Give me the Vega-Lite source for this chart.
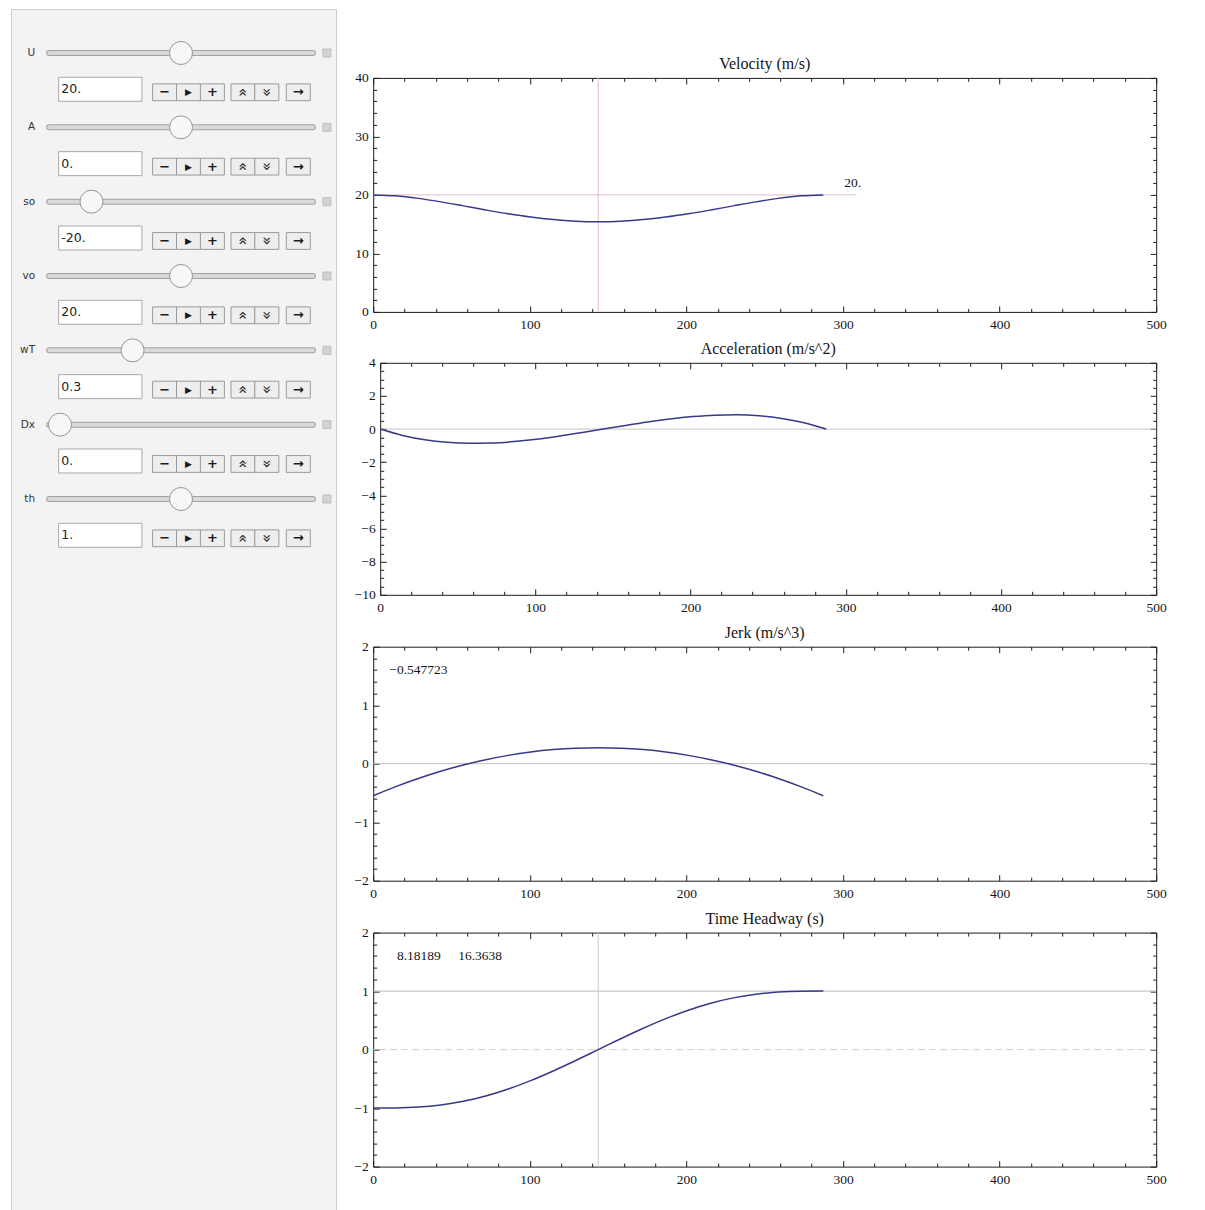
{
  "$schema": "https://vega.github.io/schema/vega-lite/v6.json",
  "background": "white",
  "padding": {"left": 10, "top": 8, "right": 0, "bottom": 0},
  "spacing": 16.2,
  "datasets": {
    "profile": [
      {"x": 0, "v": 20.0, "a": 0, "j": -0.5478, "h": -1.0},
      {"x": 14.37, "v": 19.835, "a": -0.3831, "j": -0.3917, "h": -0.9977},
      {"x": 28.74, "v": 19.406, "a": -0.6453, "j": -0.252, "h": -0.9829},
      {"x": 43.11, "v": 18.808, "a": -0.7999, "j": -0.1287, "h": -0.9468},
      {"x": 57.48, "v": 18.123, "a": -0.8604, "j": -0.0219, "h": -0.8842},
      {"x": 71.85, "v": 17.422, "a": -0.8402, "j": 0.0685, "h": -0.793},
      {"x": 86.22, "v": 16.766, "a": -0.7528, "j": 0.1424, "h": -0.6738},
      {"x": 100.59, "v": 16.205, "a": -0.6117, "j": 0.2, "h": -0.5297},
      {"x": 114.96, "v": 15.776, "a": -0.4302, "j": 0.241, "h": -0.3651},
      {"x": 129.33, "v": 15.508, "a": -0.2218, "j": 0.2657, "h": -0.1863},
      {"x": 143.7, "v": 15.417, "a": 0, "j": 0.2739, "h": 0},
      {"x": 158.07, "v": 15.508, "a": 0.2218, "j": 0.2657, "h": 0.1863},
      {"x": 172.44, "v": 15.776, "a": 0.4302, "j": 0.241, "h": 0.3651},
      {"x": 186.81, "v": 16.205, "a": 0.6117, "j": 0.2, "h": 0.5297},
      {"x": 201.18, "v": 16.766, "a": 0.7528, "j": 0.1424, "h": 0.6738},
      {"x": 215.55, "v": 17.422, "a": 0.8402, "j": 0.0685, "h": 0.793},
      {"x": 229.92, "v": 18.123, "a": 0.8604, "j": -0.0219, "h": 0.8842},
      {"x": 244.29, "v": 18.808, "a": 0.7999, "j": -0.1287, "h": 0.9468},
      {"x": 258.66, "v": 19.406, "a": 0.6453, "j": -0.252, "h": 0.9829},
      {"x": 273.03, "v": 19.835, "a": 0.3831, "j": -0.3917, "h": 0.9977},
      {"x": 287.4, "v": 20.0, "a": 0, "j": -0.5478, "h": 1.0}
    ],
    "controls": [
      {"name": "U", "value": "20.", "level": 0.5, "parts": ["", "−", "▶", "+", "«", "»", "→"], "slot": [0, 1, 2, 3, 4, 5, 6]},
      {"name": "A", "value": "0.", "level": 0.5, "parts": ["", "−", "▶", "+", "«", "»", "→"], "slot": [0, 1, 2, 3, 4, 5, 6]},
      {"name": "so", "value": "-20.", "level": 0.13, "parts": ["", "−", "▶", "+", "«", "»", "→"], "slot": [0, 1, 2, 3, 4, 5, 6]},
      {"name": "vo", "value": "20.", "level": 0.5, "parts": ["", "−", "▶", "+", "«", "»", "→"], "slot": [0, 1, 2, 3, 4, 5, 6]},
      {"name": "wT", "value": "0.3", "level": 0.3, "parts": ["", "−", "▶", "+", "«", "»", "→"], "slot": [0, 1, 2, 3, 4, 5, 6]},
      {"name": "Dx", "value": "0.", "level": 0, "parts": ["", "−", "▶", "+", "«", "»", "→"], "slot": [0, 1, 2, 3, 4, 5, 6]},
      {"name": "th", "value": "1.", "level": 0.5, "parts": ["", "−", "▶", "+", "«", "»", "→"], "slot": [0, 1, 2, 3, 4, 5, 6]}
    ]
  },
  "hconcat": [
    {
      "width": 325,
      "height": 1202,
      "view": {"fill": "#f3f3f3", "stroke": "#cfcfcf", "strokeWidth": 1},
      "data": {"name": "controls"},
      "layer": [
        {
          "layer": [
            {
              "mark": {"type": "rule", "stroke": "#a2a2a2", "strokeWidth": 6, "strokeCap": "round"},
              "encoding": {
                "x": {"datum": -0.045, "type": "quantitative", "scale": {"domain": [0, 1], "range": [49, 291], "nice": false, "zero": false}, "axis": null},
                "x2": {"datum": 1.045},
                "y": {"field": "name", "type": "nominal", "scale": {"type": "point", "domain": ["U", "A", "so", "vo", "wT", "Dx", "th"], "range": [44, 490], "padding": 0}, "axis": null}
              }
            },
            {
              "mark": {"type": "rule", "stroke": "#d9d9d9", "strokeWidth": 4, "strokeCap": "round"},
              "encoding": {
                "x": {"datum": -0.045, "type": "quantitative", "scale": {"domain": [0, 1], "range": [49, 291], "nice": false, "zero": false}, "axis": null},
                "x2": {"datum": 1.045},
                "y": {"field": "name", "type": "nominal", "scale": {"type": "point", "domain": ["U", "A", "so", "vo", "wT", "Dx", "th"], "range": [44, 490], "padding": 0}, "axis": null}
              }
            },
            {
              "mark": {"type": "point", "shape": "square", "size": 64, "filled": true, "fill": "#d2d2d2", "stroke": "#bdbdbd", "strokeWidth": 1, "opacity": 1},
              "encoding": {
                "x": {"datum": 1.103, "type": "quantitative", "scale": {"domain": [0, 1], "range": [49, 291], "nice": false, "zero": false}, "axis": null},
                "y": {"field": "name", "type": "nominal", "scale": {"type": "point", "domain": ["U", "A", "so", "vo", "wT", "Dx", "th"], "range": [44, 490], "padding": 0}, "axis": null}
              }
            },
            {
              "mark": {"type": "text", "align": "right", "baseline": "middle", "font": "DejaVu Sans", "fontSize": 10.5, "fill": "#333333"},
              "encoding": {
                "x": {"datum": -0.103, "type": "quantitative", "scale": {"domain": [0, 1], "range": [49, 291], "nice": false, "zero": false}, "axis": null},
                "y": {"field": "name", "type": "nominal", "scale": {"type": "point", "domain": ["U", "A", "so", "vo", "wT", "Dx", "th"], "range": [44, 490], "padding": 0}, "axis": null},
                "text": {"field": "name"}
              }
            },
            {
              "mark": {"type": "point", "shape": "circle", "size": 529, "filled": true, "fill": "#f7f7f7", "stroke": "#969696", "strokeWidth": 1, "opacity": 1},
              "encoding": {
                "x": {"field": "level", "type": "quantitative", "scale": {"domain": [0, 1], "range": [49, 291], "nice": false, "zero": false}, "axis": null},
                "y": {"field": "name", "type": "nominal", "scale": {"type": "point", "domain": ["U", "A", "so", "vo", "wT", "Dx", "th"], "range": [44, 490], "padding": 0}, "axis": null}
              }
            }
          ]
        },
        {
          "transform": [{"flatten": ["parts", "slot"], "as": ["part", "slot"]}],
          "layer": [
            {
              "transform": [{"filter": "datum.slot == 0"}],
              "mark": {"type": "point", "shape": "M-1,-0.288H1V0.288H-1Z", "size": 6939, "filled": true, "fill": "#ffffff", "stroke": "#a8a8a8", "strokeWidth": 1, "opacity": 1, "yOffset": 36.3},
              "encoding": {
                "x": {"field": "slot", "type": "quantitative", "scale": {"domain": [0, 1, 3, 4, 5, 6], "range": [89.3, 153.6, 201.4, 232, 255.8, 287.3], "nice": false, "zero": false}, "axis": null},
                "y": {"field": "name", "type": "nominal", "scale": {"type": "point", "domain": ["U", "A", "so", "vo", "wT", "Dx", "th"], "range": [44, 490], "padding": 0}, "axis": null}
              }
            },
            {
              "transform": [{"filter": "datum.slot > 0"}],
              "mark": {"type": "point", "shape": "M-1,-0.7H1V0.7H-1Z", "size": 576, "filled": true, "fill": "#eeeeee", "stroke": "#9a9a9a", "strokeWidth": 1, "opacity": 1, "yOffset": 39.3},
              "encoding": {
                "x": {"field": "slot", "type": "quantitative", "scale": {"domain": [0, 1, 3, 4, 5, 6], "range": [89.3, 153.6, 201.4, 232, 255.8, 287.3], "nice": false, "zero": false}, "axis": null},
                "y": {"field": "name", "type": "nominal", "scale": {"type": "point", "domain": ["U", "A", "so", "vo", "wT", "Dx", "th"], "range": [44, 490], "padding": 0}, "axis": null}
              }
            },
            {
              "transform": [{"filter": "indexof([1, 2, 3, 6], datum.slot) >= 0"}],
              "mark": {"type": "text", "align": "center", "baseline": "middle", "font": "DejaVu Sans", "fontWeight": "bold", "fill": "#1a1a1a", "dy": 39.3},
              "encoding": {
                "x": {"field": "slot", "type": "quantitative", "scale": {"domain": [0, 1, 3, 4, 5, 6], "range": [89.3, 153.6, 201.4, 232, 255.8, 287.3], "nice": false, "zero": false}, "axis": null},
                "y": {"field": "name", "type": "nominal", "scale": {"type": "point", "domain": ["U", "A", "so", "vo", "wT", "Dx", "th"], "range": [44, 490], "padding": 0}, "axis": null},
                "text": {"field": "part"},
                "size": {"condition": {"test": "datum.slot == 2", "value": 9}, "value": 13}
              }
            },
            {
              "transform": [{"filter": "datum.slot == 4 || datum.slot == 5"}],
              "mark": {"type": "text", "align": "center", "baseline": "middle", "font": "DejaVu Sans", "fontSize": 15, "angle": 90, "fill": "#1a1a1a", "dx": 39.3},
              "encoding": {
                "x": {"field": "slot", "type": "quantitative", "scale": {"domain": [0, 1, 3, 4, 5, 6], "range": [89.3, 153.6, 201.4, 232, 255.8, 287.3], "nice": false, "zero": false}, "axis": null},
                "y": {"field": "name", "type": "nominal", "scale": {"type": "point", "domain": ["U", "A", "so", "vo", "wT", "Dx", "th"], "range": [44, 490], "padding": 0}, "axis": null},
                "text": {"field": "part"}
              }
            },
            {
              "transform": [{"filter": "datum.slot == 0"}],
              "mark": {"type": "text", "align": "left", "baseline": "middle", "font": "DejaVu Sans", "fontSize": 12.5, "fill": "#222222", "dx": -39, "dy": 36.3},
              "encoding": {
                "x": {"field": "slot", "type": "quantitative", "scale": {"domain": [0, 1, 3, 4, 5, 6], "range": [89.3, 153.6, 201.4, 232, 255.8, 287.3], "nice": false, "zero": false}, "axis": null},
                "y": {"field": "name", "type": "nominal", "scale": {"type": "point", "domain": ["U", "A", "so", "vo", "wT", "Dx", "th"], "range": [44, 490], "padding": 0}, "axis": null},
                "text": {"field": "value"}
              }
            }
          ]
        }
      ],
      "resolve": {"scale": {"x": "independent"}}
    },
    {
      "concat": [
        {
          "width": 783,
          "height": 36.2,
          "view": {"stroke": null},
          "data": {"values": [{}]},
          "mark": {"type": "text"},
          "encoding": {}
        },
        {
          "width": 783,
          "height": 234,
          "title": {"text": "Velocity (m/s)"},
          "layer": [
            {
              "data": {"values": [{"x": 143.7}]},
              "mark": {"type": "rule", "stroke": "#e2c2c4", "strokeWidth": 1},
              "encoding": {
                "x": {"field": "x", "type": "quantitative", "scale": {"domain": [0, 500], "nice": false, "zero": false}, "axis": null}
              }
            },
            {
              "data": {"values": [{"x0": 0, "x1": 308.6, "y": 20}]},
              "mark": {"type": "rule", "stroke": "#e6bcc6", "strokeWidth": 1},
              "encoding": {
                "x": {"field": "x0", "type": "quantitative", "scale": {"domain": [0, 500], "nice": false, "zero": false}, "axis": null},
                "x2": {"field": "x1"},
                "y": {"field": "y", "type": "quantitative", "scale": {"domain": [0, 40], "nice": false, "zero": false}, "axis": null}
              }
            },
            {
              "data": {"values": [{"x": 306.2, "y": 22.1, "label": "20."}]},
              "mark": {"type": "text", "font": "Liberation Serif", "fontSize": 13.5, "fill": "#151515", "align": "center", "baseline": "middle"},
              "encoding": {
                "x": {"field": "x", "type": "quantitative", "scale": {"domain": [0, 500], "nice": false, "zero": false}, "axis": null},
                "y": {"field": "y", "type": "quantitative", "scale": {"domain": [0, 40], "nice": false, "zero": false}, "axis": null},
                "text": {"field": "label"}
              }
            },
            {
              "data": {"name": "profile"},
              "mark": {"type": "line", "stroke": "#38388a", "strokeWidth": 1.5, "interpolate": "monotone"},
              "encoding": {
                "x": {"field": "x", "type": "quantitative", "scale": {"domain": [0, 500], "nice": false, "zero": false}, "axis": {"orient": "bottom", "values": [0, 100, 200, 300, 400, 500], "tickSize": -6, "labelPadding": 12, "title": null}},
                "y": {"field": "v", "type": "quantitative", "scale": {"domain": [0, 40], "nice": false, "zero": false}, "axis": {"orient": "left", "values": [0, 10, 20, 30, 40], "tickSize": -6, "labelPadding": 11, "title": null}}
              }
            },
            {
              "data": {"name": "profile"},
              "mark": {"type": "point", "opacity": 0},
              "encoding": {
                "x": {"field": "x", "type": "quantitative", "scale": {"domain": [0, 500], "nice": false, "zero": false}, "axis": {"orient": "top", "values": [0, 100, 200, 300, 400, 500], "tickSize": -6, "labels": false, "title": null}},
                "y": {"field": "v", "type": "quantitative", "scale": {"domain": [0, 40], "nice": false, "zero": false}, "axis": {"orient": "right", "values": [0, 10, 20, 30, 40], "tickSize": -6, "labels": false, "title": null}}
              }
            },
            {
              "data": {"name": "profile"},
              "mark": {"type": "point", "opacity": 0},
              "encoding": {
                "x": {"field": "x", "type": "quantitative", "scale": {"domain": [0, 500], "nice": false, "zero": false}, "axis": {"orient": "bottom", "values": [20, 40, 60, 80, 120, 140, 160, 180, 220, 240, 260, 280, 320, 340, 360, 380, 420, 440, 460, 480], "tickSize": -3.5, "labels": false, "title": null}},
                "y": {"field": "v", "type": "quantitative", "scale": {"domain": [0, 40], "nice": false, "zero": false}, "axis": {"orient": "left", "values": [2, 4, 6, 8, 12, 14, 16, 18, 22, 24, 26, 28, 32, 34, 36, 38], "tickSize": -3.5, "labels": false, "title": null}}
              }
            },
            {
              "data": {"name": "profile"},
              "mark": {"type": "point", "opacity": 0},
              "encoding": {
                "x": {"field": "x", "type": "quantitative", "scale": {"domain": [0, 500], "nice": false, "zero": false}, "axis": {"orient": "top", "values": [20, 40, 60, 80, 120, 140, 160, 180, 220, 240, 260, 280, 320, 340, 360, 380, 420, 440, 460, 480], "tickSize": -3.5, "labels": false, "title": null}},
                "y": {"field": "v", "type": "quantitative", "scale": {"domain": [0, 40], "nice": false, "zero": false}, "axis": {"orient": "right", "values": [2, 4, 6, 8, 12, 14, 16, 18, 22, 24, 26, 28, 32, 34, 36, 38], "tickSize": -3.5, "labels": false, "title": null}}
              }
            }
          ],
          "resolve": {"axis": {"x": "independent", "y": "independent"}}
        },
        {
          "width": 783,
          "height": 232,
          "view": {"stroke": null},
          "title": {"text": "Acceleration (m/s^2)", "dx": 3.5},
          "layer": [
            {
              "data": {"values": [{"x0": 0, "x1": 500, "y": 0}]},
              "mark": {"type": "rule", "stroke": "#c4c4c4", "strokeWidth": 1},
              "encoding": {
                "x": {"field": "x0", "type": "quantitative", "scale": {"domain": [0, 500], "range": [7, 783], "nice": false, "zero": false}, "axis": null},
                "x2": {"field": "x1"},
                "y": {"field": "y", "type": "quantitative", "scale": {"domain": [-10, 4], "nice": false, "zero": false}, "axis": null}
              }
            },
            {
              "data": {"name": "profile"},
              "mark": {"type": "line", "stroke": "#38388a", "strokeWidth": 1.5, "interpolate": "monotone"},
              "encoding": {
                "x": {"field": "x", "type": "quantitative", "scale": {"domain": [0, 500], "range": [7, 783], "nice": false, "zero": false}, "axis": {"orient": "bottom", "values": [0, 100, 200, 300, 400, 500], "tickSize": -6, "labelPadding": 12, "domain": true, "domainColor": "#1e1e1e", "domainWidth": 1, "title": null}},
                "y": {"field": "a", "type": "quantitative", "scale": {"domain": [-10, 4], "nice": false, "zero": false}, "axis": {"orient": "left", "offset": -7, "values": [-10, -8, -6, -4, -2, 0, 2, 4], "tickSize": -6, "labelPadding": 11, "domain": true, "domainColor": "#1e1e1e", "domainWidth": 1, "title": null}}
              }
            },
            {
              "data": {"name": "profile"},
              "mark": {"type": "point", "opacity": 0},
              "encoding": {
                "x": {"field": "x", "type": "quantitative", "scale": {"domain": [0, 500], "range": [7, 783], "nice": false, "zero": false}, "axis": {"orient": "top", "values": [0, 100, 200, 300, 400, 500], "tickSize": -6, "labels": false, "domain": true, "domainColor": "#1e1e1e", "domainWidth": 1, "title": null}},
                "y": {"field": "a", "type": "quantitative", "scale": {"domain": [-10, 4], "nice": false, "zero": false}, "axis": {"orient": "right", "values": [-10, -8, -6, -4, -2, 0, 2, 4], "tickSize": -6, "labels": false, "domain": true, "domainColor": "#1e1e1e", "domainWidth": 1, "title": null}}
              }
            },
            {
              "data": {"name": "profile"},
              "mark": {"type": "point", "opacity": 0},
              "encoding": {
                "x": {"field": "x", "type": "quantitative", "scale": {"domain": [0, 500], "range": [7, 783], "nice": false, "zero": false}, "axis": {"orient": "bottom", "values": [20, 40, 60, 80, 120, 140, 160, 180, 220, 240, 260, 280, 320, 340, 360, 380, 420, 440, 460, 480], "tickSize": -3.5, "labels": false, "title": null}},
                "y": {"field": "a", "type": "quantitative", "scale": {"domain": [-10, 4], "nice": false, "zero": false}, "axis": {"orient": "left", "offset": -7, "values": [-9.5, -9, -8.5, -7.5, -7, -6.5, -5.5, -5, -4.5, -3.5, -3, -2.5, -1.5, -1, -0.5, 0.5, 1, 1.5, 2.5, 3, 3.5], "tickSize": -3.5, "labels": false, "title": null}}
              }
            },
            {
              "data": {"name": "profile"},
              "mark": {"type": "point", "opacity": 0},
              "encoding": {
                "x": {"field": "x", "type": "quantitative", "scale": {"domain": [0, 500], "range": [7, 783], "nice": false, "zero": false}, "axis": {"orient": "top", "values": [20, 40, 60, 80, 120, 140, 160, 180, 220, 240, 260, 280, 320, 340, 360, 380, 420, 440, 460, 480], "tickSize": -3.5, "labels": false, "title": null}},
                "y": {"field": "a", "type": "quantitative", "scale": {"domain": [-10, 4], "nice": false, "zero": false}, "axis": {"orient": "right", "values": [-9.5, -9, -8.5, -7.5, -7, -6.5, -5.5, -5, -4.5, -3.5, -3, -2.5, -1.5, -1, -0.5, 0.5, 1, 1.5, 2.5, 3, 3.5], "tickSize": -3.5, "labels": false, "title": null}}
              }
            }
          ],
          "resolve": {"axis": {"x": "independent", "y": "independent"}}
        },
        {
          "width": 783,
          "height": 234,
          "title": {"text": "Jerk (m/s^3)"},
          "layer": [
            {
              "data": {"values": [{"y": 0}]},
              "mark": {"type": "rule", "stroke": "#c0c0c0", "strokeWidth": 1},
              "encoding": {
                "y": {"field": "y", "type": "quantitative", "scale": {"domain": [-2, 2], "nice": false, "zero": false}, "axis": null}
              }
            },
            {
              "data": {"values": [{"x": 28.9, "y": 1.6, "label": "−0.547723"}]},
              "mark": {"type": "text", "font": "Liberation Serif", "fontSize": 13.5, "fill": "#151515", "align": "center", "baseline": "middle"},
              "encoding": {
                "x": {"field": "x", "type": "quantitative", "scale": {"domain": [0, 500], "nice": false, "zero": false}, "axis": null},
                "y": {"field": "y", "type": "quantitative", "scale": {"domain": [-2, 2], "nice": false, "zero": false}, "axis": null},
                "text": {"field": "label"}
              }
            },
            {
              "data": {"name": "profile"},
              "mark": {"type": "line", "stroke": "#38388a", "strokeWidth": 1.5, "interpolate": "monotone"},
              "encoding": {
                "x": {"field": "x", "type": "quantitative", "scale": {"domain": [0, 500], "nice": false, "zero": false}, "axis": {"orient": "bottom", "values": [0, 100, 200, 300, 400, 500], "tickSize": -6, "labelPadding": 12, "title": null}},
                "y": {"field": "j", "type": "quantitative", "scale": {"domain": [-2, 2], "nice": false, "zero": false}, "axis": {"orient": "left", "values": [-2, -1, 0, 1, 2], "tickSize": -6, "labelPadding": 11, "title": null}}
              }
            },
            {
              "data": {"name": "profile"},
              "mark": {"type": "point", "opacity": 0},
              "encoding": {
                "x": {"field": "x", "type": "quantitative", "scale": {"domain": [0, 500], "nice": false, "zero": false}, "axis": {"orient": "top", "values": [0, 100, 200, 300, 400, 500], "tickSize": -6, "labels": false, "title": null}},
                "y": {"field": "j", "type": "quantitative", "scale": {"domain": [-2, 2], "nice": false, "zero": false}, "axis": {"orient": "right", "values": [-2, -1, 0, 1, 2], "tickSize": -6, "labels": false, "title": null}}
              }
            },
            {
              "data": {"name": "profile"},
              "mark": {"type": "point", "opacity": 0},
              "encoding": {
                "x": {"field": "x", "type": "quantitative", "scale": {"domain": [0, 500], "nice": false, "zero": false}, "axis": {"orient": "bottom", "values": [20, 40, 60, 80, 120, 140, 160, 180, 220, 240, 260, 280, 320, 340, 360, 380, 420, 440, 460, 480], "tickSize": -3.5, "labels": false, "title": null}},
                "y": {"field": "j", "type": "quantitative", "scale": {"domain": [-2, 2], "nice": false, "zero": false}, "axis": {"orient": "left", "values": [-1.8, -1.6, -1.4, -1.2, -0.8, -0.6, -0.4, -0.2, 0.2, 0.4, 0.6, 0.8, 1.2, 1.4, 1.6, 1.8], "tickSize": -3.5, "labels": false, "title": null}}
              }
            },
            {
              "data": {"name": "profile"},
              "mark": {"type": "point", "opacity": 0},
              "encoding": {
                "x": {"field": "x", "type": "quantitative", "scale": {"domain": [0, 500], "nice": false, "zero": false}, "axis": {"orient": "top", "values": [20, 40, 60, 80, 120, 140, 160, 180, 220, 240, 260, 280, 320, 340, 360, 380, 420, 440, 460, 480], "tickSize": -3.5, "labels": false, "title": null}},
                "y": {"field": "j", "type": "quantitative", "scale": {"domain": [-2, 2], "nice": false, "zero": false}, "axis": {"orient": "right", "values": [-1.8, -1.6, -1.4, -1.2, -0.8, -0.6, -0.4, -0.2, 0.2, 0.4, 0.6, 0.8, 1.2, 1.4, 1.6, 1.8], "tickSize": -3.5, "labels": false, "title": null}}
              }
            }
          ],
          "resolve": {"axis": {"x": "independent", "y": "independent"}}
        },
        {
          "width": 783,
          "height": 234,
          "title": {"text": "Time Headway (s)"},
          "layer": [
            {
              "data": {"values": [{"y": 0}]},
              "mark": {"type": "rule", "stroke": "#d2d2d2", "strokeWidth": 1, "strokeDash": [7, 4]},
              "encoding": {
                "y": {"field": "y", "type": "quantitative", "scale": {"domain": [-2, 2], "nice": false, "zero": false}, "axis": null}
              }
            },
            {
              "data": {"values": [{"y": 1}]},
              "mark": {"type": "rule", "stroke": "#bababa", "strokeWidth": 1},
              "encoding": {
                "y": {"field": "y", "type": "quantitative", "scale": {"domain": [-2, 2], "nice": false, "zero": false}, "axis": null}
              }
            },
            {
              "data": {"values": [{"x": 143.7}]},
              "mark": {"type": "rule", "stroke": "#dac6c8", "strokeWidth": 1},
              "encoding": {
                "x": {"field": "x", "type": "quantitative", "scale": {"domain": [0, 500], "nice": false, "zero": false}, "axis": null}
              }
            },
            {
              "data": {"values": [{"x": 29.2, "y": 1.6, "label": "8.18189"}, {"x": 68.3, "y": 1.6, "label": "16.3638"}]},
              "mark": {"type": "text", "font": "Liberation Serif", "fontSize": 13.5, "fill": "#151515", "align": "center", "baseline": "middle"},
              "encoding": {
                "x": {"field": "x", "type": "quantitative", "scale": {"domain": [0, 500], "nice": false, "zero": false}, "axis": null},
                "y": {"field": "y", "type": "quantitative", "scale": {"domain": [-2, 2], "nice": false, "zero": false}, "axis": null},
                "text": {"field": "label"}
              }
            },
            {
              "data": {"name": "profile"},
              "mark": {"type": "line", "stroke": "#38388a", "strokeWidth": 1.5, "interpolate": "monotone"},
              "encoding": {
                "x": {"field": "x", "type": "quantitative", "scale": {"domain": [0, 500], "nice": false, "zero": false}, "axis": {"orient": "bottom", "values": [0, 100, 200, 300, 400, 500], "tickSize": -6, "labelPadding": 12, "title": null}},
                "y": {"field": "h", "type": "quantitative", "scale": {"domain": [-2, 2], "nice": false, "zero": false}, "axis": {"orient": "left", "values": [-2, -1, 0, 1, 2], "tickSize": -6, "labelPadding": 11, "title": null}}
              }
            },
            {
              "data": {"name": "profile"},
              "mark": {"type": "point", "opacity": 0},
              "encoding": {
                "x": {"field": "x", "type": "quantitative", "scale": {"domain": [0, 500], "nice": false, "zero": false}, "axis": {"orient": "top", "values": [0, 100, 200, 300, 400, 500], "tickSize": -6, "labels": false, "title": null}},
                "y": {"field": "h", "type": "quantitative", "scale": {"domain": [-2, 2], "nice": false, "zero": false}, "axis": {"orient": "right", "values": [-2, -1, 0, 1, 2], "tickSize": -6, "labels": false, "title": null}}
              }
            },
            {
              "data": {"name": "profile"},
              "mark": {"type": "point", "opacity": 0},
              "encoding": {
                "x": {"field": "x", "type": "quantitative", "scale": {"domain": [0, 500], "nice": false, "zero": false}, "axis": {"orient": "bottom", "values": [20, 40, 60, 80, 120, 140, 160, 180, 220, 240, 260, 280, 320, 340, 360, 380, 420, 440, 460, 480], "tickSize": -3.5, "labels": false, "title": null}},
                "y": {"field": "h", "type": "quantitative", "scale": {"domain": [-2, 2], "nice": false, "zero": false}, "axis": {"orient": "left", "values": [-1.8, -1.6, -1.4, -1.2, -0.8, -0.6, -0.4, -0.2, 0.2, 0.4, 0.6, 0.8, 1.2, 1.4, 1.6, 1.8], "tickSize": -3.5, "labels": false, "title": null}}
              }
            },
            {
              "data": {"name": "profile"},
              "mark": {"type": "point", "opacity": 0},
              "encoding": {
                "x": {"field": "x", "type": "quantitative", "scale": {"domain": [0, 500], "nice": false, "zero": false}, "axis": {"orient": "top", "values": [20, 40, 60, 80, 120, 140, 160, 180, 220, 240, 260, 280, 320, 340, 360, 380, 420, 440, 460, 480], "tickSize": -3.5, "labels": false, "title": null}},
                "y": {"field": "h", "type": "quantitative", "scale": {"domain": [-2, 2], "nice": false, "zero": false}, "axis": {"orient": "right", "values": [-1.8, -1.6, -1.4, -1.2, -0.8, -0.6, -0.4, -0.2, 0.2, 0.4, 0.6, 0.8, 1.2, 1.4, 1.6, 1.8], "tickSize": -3.5, "labels": false, "title": null}}
              }
            }
          ],
          "resolve": {"axis": {"x": "independent", "y": "independent"}}
        }
      ],
      "columns": 1,
      "spacing": 8.9
    }
  ],
  "config": {
    "view": {"stroke": "#1e1e1e", "strokeWidth": 1},
    "axis": {
      "domain": false,
      "grid": false,
      "ticks": true,
      "tickColor": "#1e1e1e",
      "tickWidth": 1,
      "labelFont": "Liberation Serif",
      "labelFontSize": 13.5,
      "labelColor": "#151515",
      "labelFlush": false,
      "labelOverlap": false,
      "labelBound": false,
      "minExtent": 0
    },
    "title": {
      "font": "Liberation Serif",
      "fontSize": 16,
      "fontWeight": "normal",
      "color": "#151515",
      "baseline": "bottom",
      "offset": -1,
      "anchor": "middle"
    }
  }
}
